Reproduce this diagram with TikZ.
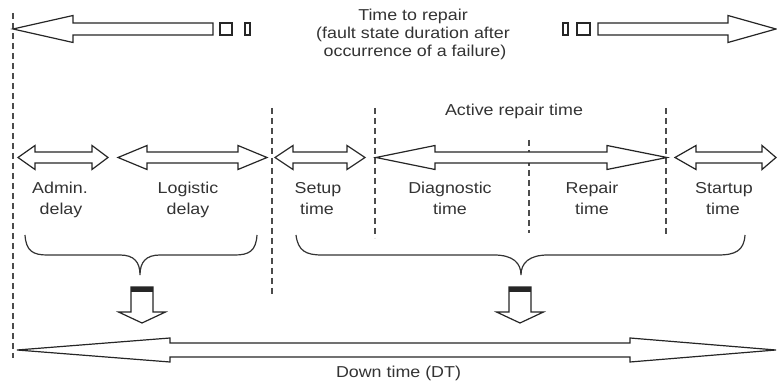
\documentclass[tikz,border=0pt]{standalone}
\usepackage{fontspec}
\setmainfont{Liberation Sans}[FakeStretch=1.13]
\begin{document}
\begin{tikzpicture}[x=1pt,y=-1pt,
  arrowline/.style={draw=black!85,line width=1.2pt,line join=miter,fill=white},
  dashline/.style={draw=black!70,line width=1.3pt,dash pattern=on 6pt off 4pt},
  braceline/.style={draw=black!80,line width=1.2pt},
  lbl/.style={anchor=base,inner sep=0pt,text=black!80,font=\fontsize{15.8}{19}\selectfont}]
\useasboundingbox (0,0) rectangle (777,387);

% hollow double arrow: left tip, left head back, right head back, right tip, y, half head, half shaft
\newcommand\hollowdbl[7]{%
  \draw[arrowline] (#1,#5) -- (#2,#5-#6) -- (#2,#5-#7) -- (#3,#5-#7) -- (#3,#5-#6)
    -- (#4,#5) -- (#3,#5+#6) -- (#3,#5+#7) -- (#2,#5+#7) -- (#2,#5+#6) -- cycle;}
% hollow down arrow with a dark cap, centred at x
\newcommand\hollowdown[1]{%
  \draw[arrowline] (#1-11,287) -- (#1+11,287) -- (#1+11,312) -- (#1+23.5,312) -- (#1,323)
    -- (#1-23.5,312) -- (#1-11,312) -- cycle;
  \fill[black!85] (#1-11,287) rectangle (#1+11,292.5);}

% dashed boundaries
\draw[dashline] (13,13) -- (13,358);
\draw[dashline] (272,108) -- (272,297);
\draw[dashline] (375,108) -- (375,238);
\draw[dashline] (529,140) -- (529,233);
\draw[dashline] (666,108) -- (666,237);

% time to repair: broken arrows
\draw[arrowline] (13,29) -- (73,15.5) -- (73,23) -- (213,23) -- (213,35) -- (73,35) -- (73,42.5) -- cycle;
\draw[arrowline] (220,23) rectangle (232,35);
\draw[arrowline] (245,23) rectangle (250,35);
\draw[arrowline] (563,23) rectangle (568,35);
\draw[arrowline] (577,23) rectangle (590,35);
\draw[arrowline] (598,23) -- (728,23) -- (728,15.5) -- (776,29) -- (728,42.5) -- (728,35) -- (598,35) -- cycle;

\node[lbl] (ttr1) at (413,21) {Time to repair};
\node[lbl] (ttr2) at (413,39) {(fault state duration after};
\node[lbl] (ttr3) at (415,57) {occurrence of a failure)};

\node[lbl] (art) at (514,116) {Active repair time};

% phase arrows
\hollowdbl{18}{35}{92}{108}{157.5}{12}{5.5}
\hollowdbl{118}{147}{238}{267}{157.5}{12}{5.5}
\hollowdbl{275}{293}{347}{365}{157.5}{12}{5.5}
\hollowdbl{376}{435}{607}{667}{157.5}{12}{5.5}
\hollowdbl{675}{696}{762}{776}{157.5}{12}{5.5}

\node[lbl] (adm1) at (60,194) {Admin.};
\node[lbl] (adm2) at (61,215) {delay};
\node[lbl] (log1) at (188,194) {Logistic};
\node[lbl] (log2) at (188,215) {delay};
\node[lbl] (set1) at (318,194) {Setup};
\node[lbl] (set2) at (317,215) {time};
\node[lbl] (dia1) at (450,194) {Diagnostic};
\node[lbl] (dia2) at (450,215) {time};
\node[lbl] (rep1) at (592,194) {Repair};
\node[lbl] (rep2) at (592,215) {time};
\node[lbl] (sta1) at (724,194) {Startup};
\node[lbl] (sta2) at (723,215) {time};

% braces
\draw[braceline] (25,235) .. controls (26,251) and (33,255) .. (47,255) -- (120,255)
  .. controls (134,255) and (140,262) .. (140,275)
  .. controls (140,262) and (146,255) .. (160,255) -- (235,255)
  .. controls (249,255) and (256,251) .. (257,235);
\draw[braceline] (296,235) .. controls (298,251) and (306,255) .. (322,255) -- (494,255)
  .. controls (513,255) and (521,263) .. (521,275)
  .. controls (521,263) and (529,255) .. (548,255) -- (718,255)
  .. controls (735,255) and (744,251) .. (745,235);

% contributions to down time
\hollowdown{142}
\hollowdown{520}

% down time
\hollowdbl{17}{170}{630}{776}{350}{12}{7}
\node[lbl] (dt) at (398.5,378) {Down time (DT)};
\end{tikzpicture}
\end{document}
